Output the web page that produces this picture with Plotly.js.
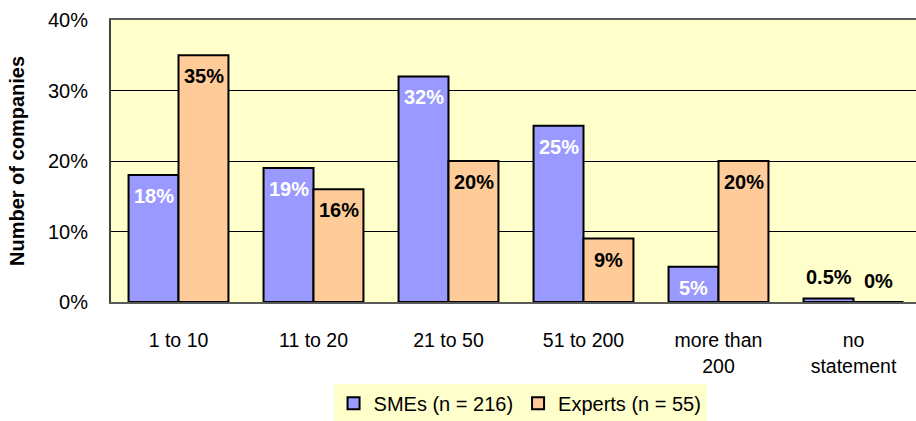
<!DOCTYPE html>
<html>
<head>
<meta charset="utf-8">
<script src="https://cdn.plot.ly/plotly-3.0.1.min.js"></script>
<style>
  html, body { margin: 0; padding: 0; background: #ffffff; overflow: hidden; }
  #chart { width: 925px; height: 421px; }
</style>
</head>
<body>
<div id="chart"></div>
<script>
// Company size groups (number of employees)
const categories = ['1 to 10', '11 to 20', '21 to 50', '51 to 200', 'more than<br>200', 'no<br>statement'];
const smeLabel = 'SMEs (n = 216)';
const expertLabel = 'Experts (n = 55)';
// Share of companies per size group, in percent
const smeValues = [18, 19, 32, 25, 5, 0.5];
const expertValues = [35, 16, 20, 9, 20, 0];
const yTicks = [0, 10, 20, 30, 40];

const FONT = 'Liberation Sans, Arial, sans-serif';

const traces = [
  {
    type: 'bar', name: smeLabel, x: categories, y: smeValues,
    marker: { color: '#9999FF', line: { color: '#000000', width: 2 } },
    hoverinfo: 'skip'
  },
  {
    type: 'bar', name: expertLabel, x: categories, y: expertValues,
    marker: { color: '#FFCC99', line: { color: '#000000', width: 2 } },
    hoverinfo: 'skip'
  }
];

// Value labels: near the top inside each bar, above the bar when it is too small
const annotations = [];
function addLabels(values, side, insideColor) {
  values.forEach((v, i) => {
    const small = v < 3;
    annotations.push({
      x: categories[i], y: v, xref: 'x', yref: 'y',
      text: (v % 1 === 0 ? v.toFixed(0) : String(v)) + '%',
      showarrow: false,
      xshift: side * 25,
      yshift: small ? 21 : -21,
      yanchor: 'middle', xanchor: 'center',
      font: { family: FONT, size: 20, color: small ? '#000000' : insideColor, weight: 'bold' }
    });
  });
}
addLabels(smeValues, -1, '#FFFFFF');
addLabels(expertValues, 1, '#000000');

const layout = {
  width: 925, height: 421,
  margin: { l: 111, r: 4, t: 20, b: 119, autoexpand: false },
  paper_bgcolor: '#FFFFFF',
  plot_bgcolor: '#FFFFCC',
  barmode: 'group',
  bargap: 0.26,
  bargroupgap: 0,
  font: { family: FONT, size: 20, color: '#000000' },
  xaxis: {
    type: 'category',
    showline: true, linecolor: '#5a5a5a', linewidth: 2, mirror: true,
    ticks: '', showgrid: false,
    tickfont: { family: FONT, size: 19.5, color: '#000000' },
    ticklabelstandoff: 20
  },
  yaxis: {
    range: [0, 40], tickvals: yTicks, ticktext: yTicks.map(t => t + '%'),
    showline: true, linecolor: '#404040', linewidth: 2,
    showgrid: true, gridcolor: '#000000', gridwidth: 1,
    zeroline: false, ticks: '',
    tickfont: { family: FONT, size: 20, color: '#000000' },
    ticklabelstandoff: 17,
    title: { text: 'Number of companies', standoff: 18,
             font: { family: FONT, size: 20, color: '#000000', weight: 'bold' } }
  },
  legend: {
    orientation: 'h', x: 0.505, xanchor: 'center', y: -0.29, yanchor: 'top',
    bgcolor: '#FFFFCC', borderwidth: 0,
    font: { family: FONT, size: 20, color: '#000000' },
    itemclick: false, itemdoubleclick: false
  },
  annotations: annotations,
  showlegend: true
};

Plotly.newPlot('chart', traces, layout, { displayModeBar: false, staticPlot: true });
</script>
</body>
</html>
